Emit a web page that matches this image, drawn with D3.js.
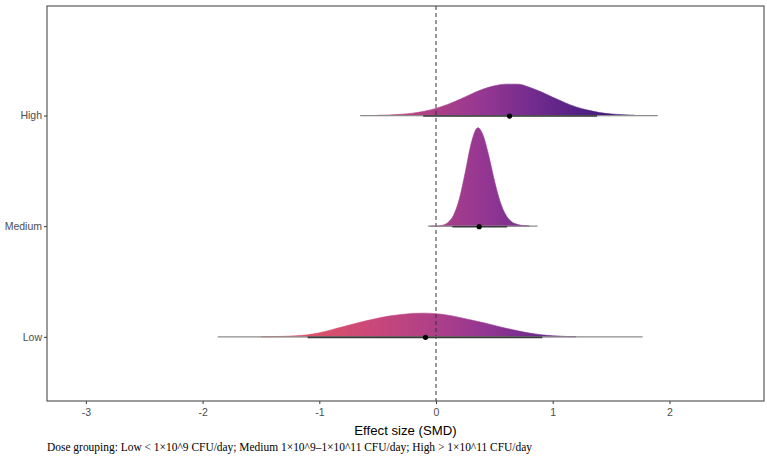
<!DOCTYPE html>
<html>
<head>
<meta charset="utf-8">
<script src="https://cdn.jsdelivr.net/npm/d3@7"></script>
<style>
    body { margin: 0; background: #fff; }
    #chart { width: 767px; height: 458px; }
    .axis text { font-family: "Liberation Sans", Arial, sans-serif; font-size: 10.5px; fill: #4d4d4d; }
    .axis line { stroke: #333; }
    .axis-title { font-family: "Liberation Sans", Arial, sans-serif; font-size: 13.2px; fill: #000; }
    .caption { font-family: "Liberation Serif", "Times New Roman", serif; font-size: 11.45px; fill: #000; }
</style>
</head>
<body>
<div id="chart"></div>
<script>
// dose groups, bottom to top
const groups = ["Low", "Medium", "High"];

// posterior density (x = SMD, d = density)
const lowX = [-1.5, -1.4, -1.3, -1.2, -1.1, -1.0, -0.9, -0.8, -0.7, -0.6, -0.5, -0.4, -0.3, -0.2, -0.1, 0.0,
    0.1, 0.2, 0.3, 0.4, 0.5, 0.6, 0.7, 0.8, 0.9, 1.0, 1.1, 1.2];
const lowDens = [0.003, 0.008, 0.018, 0.035, 0.07, 0.14, 0.24, 0.35, 0.46, 0.56, 0.65, 0.73, 0.78, 0.82, 0.83, 0.81,
    0.76, 0.68, 0.59, 0.50, 0.40, 0.30, 0.21, 0.13, 0.07, 0.035, 0.015, 0.005];

const mediumX = [-0.05, 0.0, 0.05, 0.10, 0.15, 0.20, 0.25, 0.30, 0.35, 0.36, 0.40, 0.45, 0.50, 0.55, 0.60, 0.65,
    0.70, 0.75, 0.80];
const mediumDens = [0.001, 0.005, 0.028, 0.12, 0.38, 0.96, 1.88, 2.88, 3.43, 3.45, 3.22, 2.50, 1.60, 0.85, 0.38, 0.15,
    0.06, 0.02, 0.005];

const highX = [-0.5, -0.4, -0.3, -0.2, -0.1, 0.0, 0.1, 0.2, 0.3, 0.4, 0.5, 0.6, 0.7, 0.8, 0.9, 1.0, 1.1, 1.2,
    1.3, 1.4, 1.5, 1.6, 1.7];
const highDens = [0.009, 0.02, 0.042, 0.083, 0.15, 0.25, 0.39, 0.56, 0.75, 0.92, 1.04, 1.10, 1.10, 0.99, 0.83, 0.64,
    0.46, 0.30, 0.19, 0.105, 0.055, 0.027, 0.012];

// point estimate and intervals (Low, Medium, High)
const pointEst = [-0.09, 0.37, 0.63];
const innerLo = [-1.10, 0.14, -0.11];
const innerHi = [0.91, 0.61, 1.38];
const outerLo = [-1.87, -0.07, -0.65];
const outerHi = [1.77, 0.87, 1.90];

const xTicks = [-3, -2, -1, 0, 1, 2];
const xLabel = "Effect size (SMD)";
const caption = "Dose grouping: Low < 1×10^9 CFU/day; Medium 1×10^9–1×10^11 CFU/day; High > 1×10^11 CFU/day";

// fill gradient along x
const gradStops = [
    {v: -1.9, c: "#ee7a70"}, {v: -1.4, c: "#e35a62"}, {v: -0.9, c: "#d74f6f"}, {v: -0.5, c: "#c8477a"},
    {v: 0.0, c: "#ad3f88"}, {v: 0.4, c: "#953792"}, {v: 0.8, c: "#752c8e"}, {v: 1.2, c: "#562285"},
    {v: 1.6, c: "#3c1a7a"}, {v: 2.0, c: "#2a1470"}
];

class RidgeVis {
    constructor(parentElement) {
        this.parentElement = parentElement;
        this.initVis();
    }

    initVis() {
        let vis = this;

        vis.margin = {top: 6, right: 3, bottom: 57, left: 47};
        vis.width = 767 - vis.margin.left - vis.margin.right;
        vis.height = 458 - vis.margin.top - vis.margin.bottom;

        vis.root = d3.select("#" + vis.parentElement).append("svg")
            .attr("width", 767)
            .attr("height", 458);

        vis.svg = vis.root.append("g")
            .attr("transform", `translate(${vis.margin.left}, ${vis.margin.top})`);

        vis.x = d3.scaleLinear().domain([-3.333, 2.81]).range([0, vis.width]);
        vis.y = d3.scaleLinear().domain([0.42, 3.99]).range([vis.height, 0]);

        vis.wrangleData();
    }

    wrangleData() {
        let vis = this;
        let xs = [lowX, mediumX, highX];
        let ds = [lowDens, mediumDens, highDens];
        vis.displayData = groups.map((g, i) => ({
            name: g,
            pos: i + 1,
            curve: xs[i].map((v, j) => ({x: v, d: ds[i][j]})),
            point: pointEst[i],
            inner: [innerLo[i], innerHi[i]],
            outer: [outerLo[i], outerHi[i]]
        }));
        vis.maxDens = d3.max(vis.displayData, g => d3.max(g.curve, c => c.d));
        vis.updateVis();
    }

    updateVis() {
        let vis = this;
        let k = 0.89 / vis.maxDens;

        // gradient shared by all slabs
        let grad = vis.root.append("defs").append("linearGradient")
            .attr("id", "slabFill")
            .attr("gradientUnits", "userSpaceOnUse")
            .attr("x1", vis.x(gradStops[0].v)).attr("x2", vis.x(gradStops[gradStops.length - 1].v))
            .attr("y1", 0).attr("y2", 0);
        let span = gradStops[gradStops.length - 1].v - gradStops[0].v;
        grad.selectAll("stop").data(gradStops).enter().append("stop")
            .attr("offset", d => (d.v - gradStops[0].v) / span)
            .attr("stop-color", d => d.c);

        // slabs
        vis.svg.selectAll(".slab").data(vis.displayData).enter().append("path")
            .attr("class", "slab")
            .attr("fill", "url(#slabFill)")
            .attr("stroke", "url(#slabFill)")
            .attr("stroke-width", 0.6)
            .attr("d", g => d3.area()
                .curve(d3.curveMonotoneX)
                .x(d => vis.x(d.x))
                .y0(vis.y(g.pos))
                .y1(d => vis.y(g.pos + d.d * k))(g.curve));

        // zero reference line
        vis.svg.append("line")
            .attr("x1", vis.x(0)).attr("x2", vis.x(0))
            .attr("y1", 0).attr("y2", vis.height)
            .attr("stroke", "#333")
            .attr("stroke-width", 1)
            .attr("stroke-dasharray", "4,3");

        // intervals
        vis.svg.selectAll(".outer").data(vis.displayData).enter().append("line")
            .attr("class", "outer")
            .attr("x1", g => vis.x(g.outer[0])).attr("x2", g => vis.x(g.outer[1]))
            .attr("y1", g => vis.y(g.pos)).attr("y2", g => vis.y(g.pos))
            .attr("stroke", "#8c8c8c")
            .attr("stroke-width", 1.2);

        vis.svg.selectAll(".inner").data(vis.displayData).enter().append("line")
            .attr("class", "inner")
            .attr("x1", g => vis.x(g.inner[0])).attr("x2", g => vis.x(g.inner[1]))
            .attr("y1", g => vis.y(g.pos) + 0.5).attr("y2", g => vis.y(g.pos) + 0.5)
            .attr("stroke", "#3a3a3a")
            .attr("stroke-width", 1.6);

        vis.svg.selectAll(".pt").data(vis.displayData).enter().append("circle")
            .attr("class", "pt")
            .attr("cx", g => vis.x(g.point))
            .attr("cy", g => vis.y(g.pos) + 0.5)
            .attr("r", 2.6)
            .attr("fill", "#000");

        // axes
        vis.xAxis = d3.axisBottom(vis.x).tickValues(xTicks).tickSize(3).tickPadding(5)
            .tickFormat(d => String(d));
        vis.svg.append("g")
            .attr("class", "x-axis axis")
            .attr("transform", `translate(0, ${vis.height})`)
            .call(vis.xAxis)
            .call(g => g.select(".domain").remove());

        vis.yAxis = d3.axisLeft(vis.y).tickValues([1, 2, 3]).tickSize(3).tickPadding(2)
            .tickFormat(d => groups[d - 1]);
        vis.svg.append("g")
            .attr("class", "y-axis axis")
            .call(vis.yAxis)
            .call(g => g.select(".domain").remove());

        // panel border
        vis.svg.append("rect")
            .attr("x", 0).attr("y", 0)
            .attr("width", vis.width).attr("height", vis.height)
            .attr("fill", "none")
            .attr("stroke", "#4a4a4a")
            .attr("stroke-width", 1.1);

        vis.svg.append("text")
            .attr("class", "axis-title")
            .attr("x", vis.width / 2)
            .attr("y", vis.height + 34)
            .attr("text-anchor", "middle")
            .text(xLabel);

        vis.root.append("text")
            .attr("class", "caption")
            .attr("x", 47)
            .attr("y", 451)
            .text(caption);
    }
}

new RidgeVis("chart");
</script>
</body>
</html>
